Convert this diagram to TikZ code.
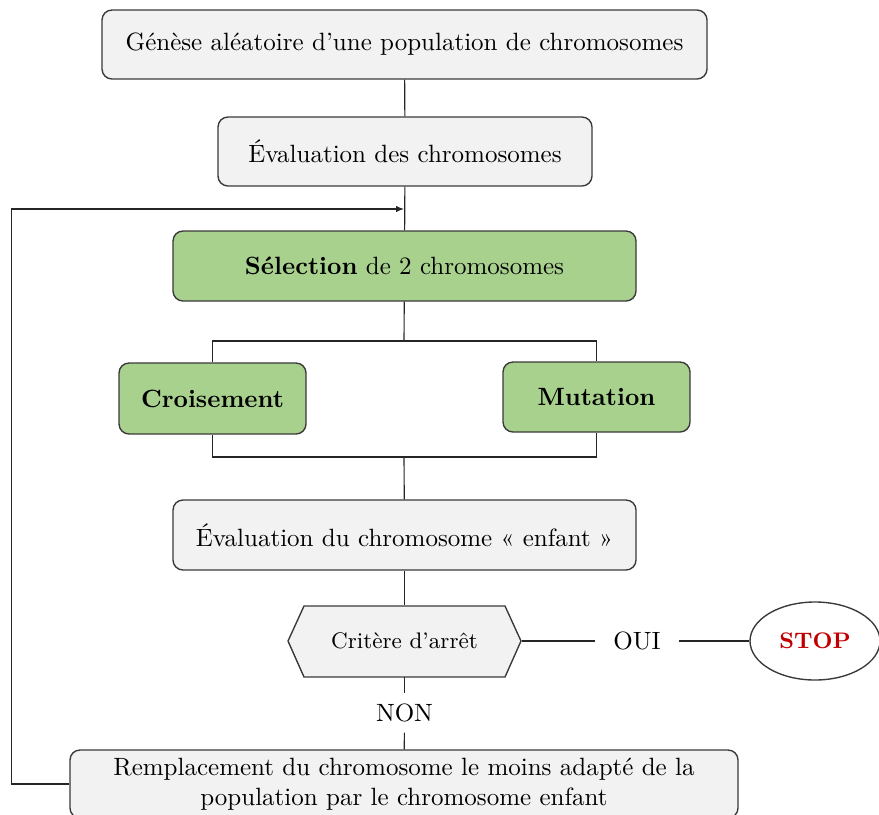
\documentclass[tikz,border=0pt]{standalone}
\usetikzlibrary{arrows.meta,shapes.geometric}
\definecolor{boxgray}{HTML}{F2F2F2}
\definecolor{boxgreen}{HTML}{A9D18E}
\definecolor{edgegray}{HTML}{3A3A3A}
\definecolor{stopred}{HTML}{C00000}
\begin{document}
\begin{tikzpicture}[x=0.4pt,y=-0.4pt,
  box/.style={draw=edgegray, line width=0.55pt, rounded corners=4pt, fill=boxgray, align=center, inner sep=2pt},
  greenbox/.style={box, fill=boxgreen},
  conn/.style={draw=black!85, line width=0.45pt},
  lbl/.style={inner xsep=7pt, inner ysep=4pt}]
\useasboundingbox (0,0) rectangle (879,814);

\node[box, minimum width=242pt, minimum height=27.6pt] (gen) at (404.5,44.5) {Génèse aléatoire d’une population de chromosomes};
\node[box, minimum width=149.6pt, minimum height=27.6pt] (eval1) at (405,151.5) {Évaluation des chromosomes};
\node[greenbox, minimum width=185.2pt, minimum height=28pt] (sel) at (404.5,266) {\textbf{Sélection} de 2 chromosomes};
\node[greenbox, minimum width=74.8pt, minimum height=28.4pt] (cro) at (212.5,398.5) {\textbf{Croisement}};
\node[greenbox, minimum width=74.8pt, minimum height=28pt] (mut) at (596.5,397) {\textbf{Mutation}};
\node[box, minimum width=185.2pt, minimum height=28pt] (eval2) at (404.5,535) {Évaluation du chromosome «~enfant~»};

\draw[draw=edgegray, line width=0.55pt, fill=boxgray] (288,641) -- (304,606) -- (505,606) -- (521,641) -- (505,677) -- (304,677) -- cycle;
\node[minimum width=93.2pt, minimum height=28.4pt, inner sep=0pt, font=\small] (crit) at (404.5,641) {Critère d’arrêt};

\node[draw=edgegray, line width=0.55pt, ellipse, minimum width=52pt, minimum height=31.2pt, inner sep=0pt, font=\small\bfseries, text=stopred] (stop) at (815,641) {STOP};

\node[lbl] (oui) at (637,641) {OUI};
\node[lbl] (non) at (404.5,713) {NON};

\node[box, minimum width=267.2pt, minimum height=27.2pt, inner sep=1pt] (repl) at (404,784) {Remplacement du chromosome le moins adapté de la\\population par le chromosome enfant};

\coordinate (loopin) at (404,209);
\coordinate (fork) at (404,341);
\coordinate (join) at (404,457);

\draw[conn] (gen) -- (eval1);
\draw[conn] (eval1) -- (sel);
\draw[conn] (sel) -- (fork);
\draw[conn] (cro.north) |- (fork) -| (mut.north);
\draw[conn] (cro.south) |- (join) -| (mut.south);
\draw[conn] (join) -- (eval2);
\draw[conn] (eval2) -- (eval2 |- crit.north);
\draw[conn] (crit.east) -- (oui);
\draw[conn] (oui) -- (stop);
\draw[conn] (crit.south) -- (non);
\draw[conn] (non) -- (repl);
\draw[conn, -{Latex[length=3.2pt,width=2.6pt]}] (repl.west) -- ++(-58,0) |- (loopin);
\end{tikzpicture}
\end{document}
